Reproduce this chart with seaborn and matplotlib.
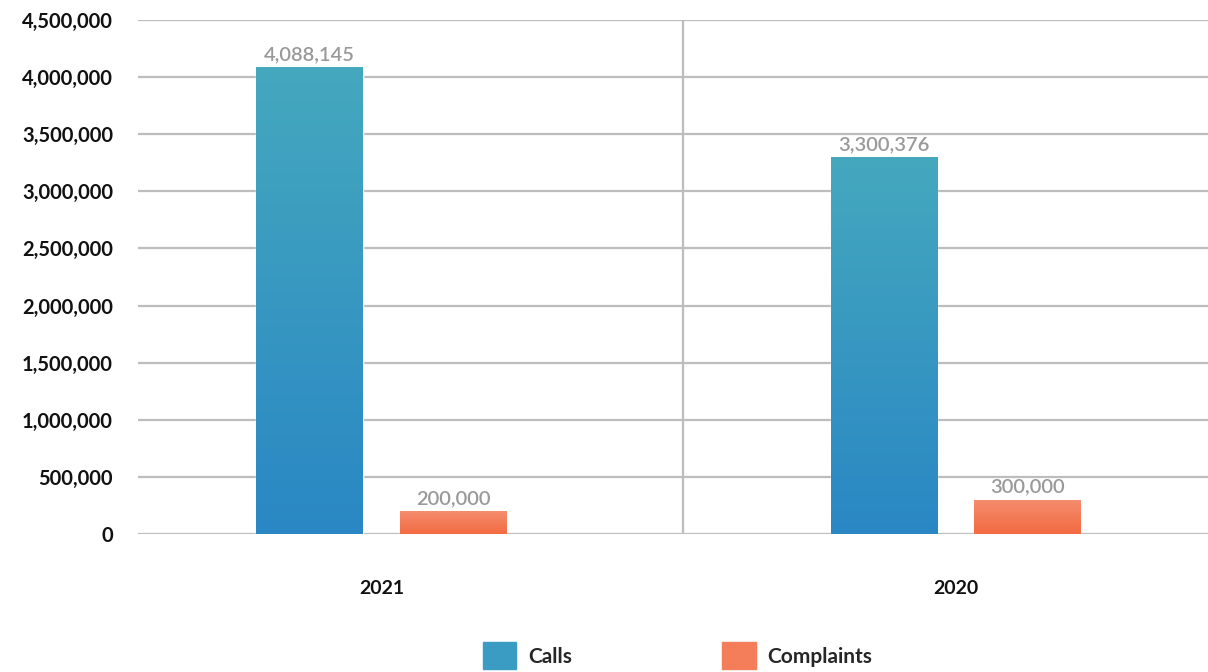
import numpy as np
import pandas as pd
import matplotlib.pyplot as plt
import matplotlib.patches as mpatches
from matplotlib.colors import LinearSegmentedColormap
from matplotlib.ticker import FuncFormatter
import seaborn as sns

# data
years = ['2021', '2020']
calls = [4088145, 3300376]
complaints = [200000, 300000]
series = ['Calls', 'Complaints']

df = pd.DataFrame({
    'Year': years * 2,
    'Series': ['Calls'] * 2 + ['Complaints'] * 2,
    'Value': calls + complaints,
})

# top / bottom colours of the gradients
grad = {'Calls': ('#45A8BE', '#2A87C4'), 'Complaints': ('#F58D6E', '#F26A42')}
flat = {'Calls': '#3A9CC2', 'Complaints': '#F47E5A'}

sns.set_theme(style='white')
plt.rcParams['font.family'] = ['Lato', 'DejaVu Sans']

fig = plt.figure(figsize=(12.08, 6.72), dpi=100)
ax = fig.add_axes([0.1142, 0.2054, 0.8858, 0.7648])

sns.barplot(data=df, x='Year', y='Value', hue='Series', order=years,
            hue_order=series, palette=flat, width=0.5, gap=0.26,
            legend=False, ax=ax)

# gradient fill inside each bar
for cont, name in zip(ax.containers, series):
    cmap = LinearSegmentedColormap.from_list(name, [grad[name][1], grad[name][0]])
    for p in cont.patches:
        x0, y0 = p.get_x(), p.get_y()
        w, h = p.get_width(), p.get_height()
        img = ax.imshow(np.linspace(0, 1, 256).reshape(-1, 1), cmap=cmap,
                        extent=[x0, x0 + w, y0, y0 + h], origin='lower',
                        aspect='auto', zorder=p.get_zorder())
        img.set_clip_path(p)
    ax.bar_label(cont, labels=[f'{v:,.0f}' for v in cont.datavalues],
                 padding=3, color='#999999', fontsize=14.5, fontweight='semibold')

ax.set_xlim(-0.424, 1.44)
ax.set_ylim(0, 4500000)
ax.set_yticks(np.arange(0, 4500001, 500000))
ax.yaxis.set_major_formatter(FuncFormatter(lambda v, _: f'{v:,.0f}'))
ax.yaxis.grid(True, color='#BDBDBD', lw=1.6)
ax.axvline(0.525, color='#BDBDBD', lw=1.6, zorder=0)
ax.set_axisbelow(True)
sns.despine(ax=ax, left=True, bottom=True)

ax.set_xlabel('')
ax.set_ylabel('')
ax.tick_params(axis='y', length=0, pad=18, labelsize=14.5, labelcolor='#111111')
ax.tick_params(axis='x', length=0, pad=33, labelsize=14, labelcolor='#111111')
for t in ax.get_yticklabels() + ax.get_xticklabels():
    t.set_fontweight('bold')

handles = [mpatches.Patch(color=flat[s], label=s) for s in series]
fig.legend(handles=handles, loc='center', bbox_to_anchor=(0.561, 0.024), ncol=2,
           frameon=False, handlelength=1.6, handleheight=1.6,
           handletextpad=0.58, columnspacing=7.2,
           prop={'size': 15, 'weight': 'bold'})

fig.savefig('out.png', dpi=100)
